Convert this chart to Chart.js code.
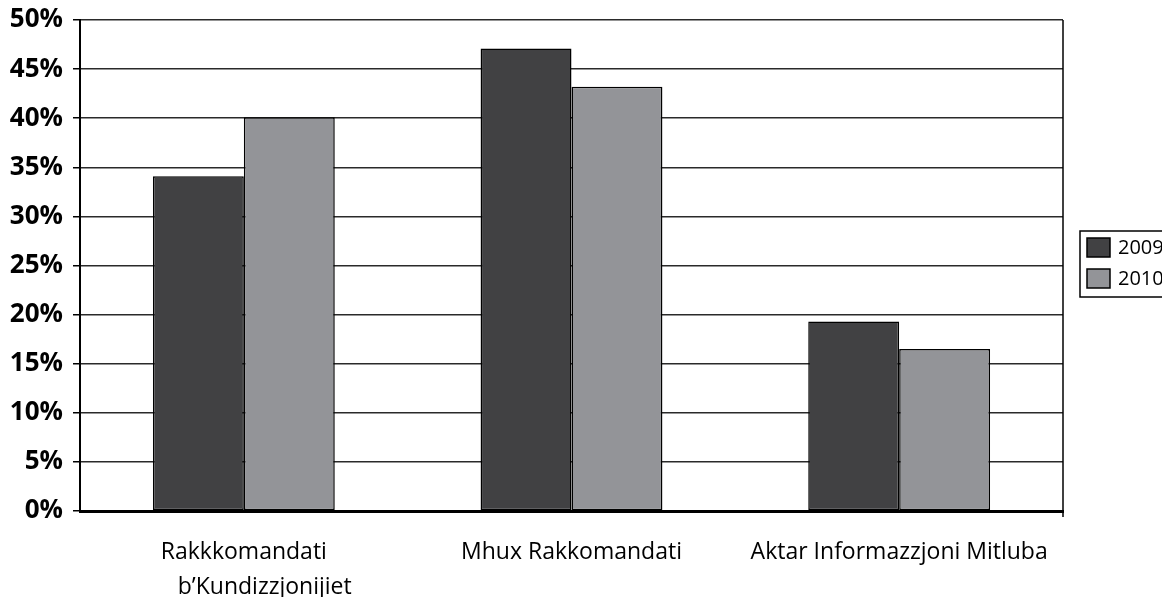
<!DOCTYPE html>
<html>
<head>
<meta charset="utf-8">
<script src="https://cdn.jsdelivr.net/npm/chart.js@4/dist/chart.umd.min.js"></script>
<style>
  html, body { margin: 0; padding: 0; background: #fff; }
  #wrap { width: 1162px; height: 597px; }
</style>
</head>
<body>
<div id="wrap"><canvas id="myChart"></canvas></div>
<script>
// data
var categories = [
  ["Rakkkomandati", "\u00a0\u00a0\u00a0\u00a0\u00a0\u00a0\u00a0b\u2019Kundizzjonijiet"],
  "Mhux Rakkomandati",
  "Aktar Informazzjoni Mitluba"
];
var years = ["2009", "2010"];
var values2009 = [34.1, 47.1, 19.3];
var values2010 = [40.1, 43.2, 16.5];
var yTicks = [0, 5, 10, 15, 20, 25, 30, 35, 40, 45, 50];

var colors = ['#414143', '#939498'];

// right frame line + legend box
var extras = {
  id: 'extras',
  afterDraw: function (chart) {
    var ctx = chart.ctx;
    var a = chart.chartArea;
    ctx.save();
    ctx.strokeStyle = '#000';
    ctx.lineWidth = 1.5;
    ctx.beginPath();
    ctx.moveTo(a.right, a.top);
    ctx.lineTo(a.right, a.bottom + 6);
    ctx.stroke();

    // legend
    ctx.lineWidth = 1.5;
    ctx.strokeRect(1080, 231, 100, 66);
    ctx.font = '20px "Open Sans"';
    ctx.textBaseline = 'middle';
    ctx.fillStyle = '#000';
    for (var i = 0; i < years.length; i++) {
      var y = 238 + i * 31;
      ctx.fillStyle = colors[i];
      ctx.fillRect(1087, y, 23, 19);
      ctx.strokeRect(1087, y, 23, 19);
      ctx.fillStyle = '#000';
      ctx.fillText(years[i], 1118, y + 10);
    }
    ctx.restore();
  }
};

var ctx = document.getElementById('myChart').getContext('2d');
var chart = new Chart(ctx, {
  type: 'bar',
  data: {
    labels: categories,
    datasets: [{
      label: years[0],
      data: values2009,
      backgroundColor: colors[0],
      borderColor: '#000',
      borderWidth: 1.5,
      borderSkipped: false
    }, {
      label: years[1],
      data: values2010,
      backgroundColor: colors[1],
      borderColor: '#000',
      borderWidth: 1.5,
      borderSkipped: false
    }]
  },
  plugins: [extras],
  options: {
    responsive: true,
    maintainAspectRatio: false,
    animation: false,
    layout: { padding: { left: 0, top: 20, right: 99, bottom: 0 } },
    datasets: { bar: { barPercentage: 1, categoryPercentage: 0.555 } },
    plugins: { legend: { display: false }, tooltip: { enabled: false } },
    scales: {
      x: {
        grid: { display: false },
        border: { color: '#000', width: 3 },
        ticks: {
          color: '#000',
          font: { family: '"Open Sans"', size: 23, lineHeight: 1.52 },
          padding: 16,
          maxRotation: 0,
          autoSkip: false
        },
        afterFit: function (s) { s.height = 86; }
      },
      y: {
        min: 0,
        max: 50,
        afterBuildTicks: function (s) {
          s.ticks = yTicks.map(function (v) { return { value: v }; });
        },
        grid: {
          color: '#2a2a2a',
          lineWidth: 1.5,
          drawTicks: true,
          tickLength: 7,
          tickColor: '#000'
        },
        border: { color: '#000', width: 2 },
        ticks: {
          color: '#000',
          font: { family: '"Open Sans"', size: 26, weight: 'bold' },
          padding: 10,
          callback: function (v) { return v + '%'; }
        },
        afterFit: function (s) {
          s.width = 80;
          s.paddingTop = 0;
          s.paddingBottom = 0;
        }
      }
    }
  }
});
</script>
</body>
</html>
